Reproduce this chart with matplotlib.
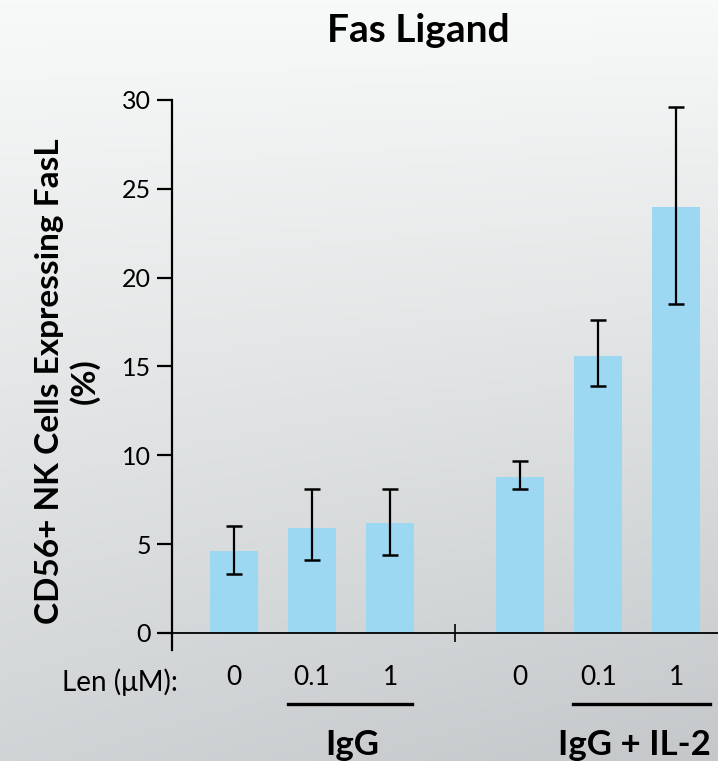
import matplotlib.pyplot as plt
import numpy as np

plt.rcParams['font.family'] = ['Lato', 'DejaVu Sans']

# bar data (% CD56+ NK cells expressing FasL)
doses = ['0', '0.1', '1', '0', '0.1', '1']
values = [4.6, 5.9, 6.2, 8.8, 15.6, 24.0]
err_hi = [6.0, 8.1, 8.1, 9.7, 17.6, 29.6]
err_lo = [3.3, 4.1, 4.4, 8.1, 13.9, 18.5]
groups = ['IgG', 'IgG + IL-2']
x_pos = [0, 1, 2, 3.67, 4.67, 5.67]
y_ticks = [0, 5, 10, 15, 20, 25, 30]

fig = plt.figure(figsize=(7.18, 7.61), dpi=100)

# gray gradient background
bg = fig.add_axes([0, 0, 1, 1], zorder=-10)
yy, xx = np.mgrid[0:1:200j, 0:1:200j]
shade = np.clip(0.75 * yy + 0.25 * xx * yy, 0, 1)
top = np.array([248, 249, 249]) / 255
bottom = np.array([196, 200, 202]) / 255
img = top + shade[..., None] * (bottom - top)
bg.imshow(img, extent=[0, 1, 0, 1], aspect='auto', origin='upper')
bg.axis('off')

ax = fig.add_axes([0.2396, 0.1682, 0.7604, 0.7004])
ax.patch.set_alpha(0)

lower = [v - l for v, l in zip(values, err_lo)]
upper = [h - v for v, h in zip(values, err_hi)]
ax.bar(x_pos, values, width=0.62, color='#9dd8f2', zorder=1)
ax.errorbar(x_pos, values, yerr=[lower, upper], fmt='none', ecolor='black',
            elinewidth=1.6, capsize=6, capthick=1.8, zorder=2)

ax.set_xlim(-0.795, 6.205)
ax.set_ylim(0, 30)
ax.set_yticks(y_ticks)
ax.set_yticklabels([str(t) for t in y_ticks], fontsize=18)
ax.tick_params(axis='y', length=11, width=1.6, pad=4)
ax.set_xticks([2.835])
ax.set_xticklabels([''])
ax.tick_params(axis='x', direction='inout', length=13, width=1.2)

for s in ['top', 'right']:
    ax.spines[s].set_visible(False)
ax.spines['left'].set_linewidth(1.6)
ax.spines['bottom'].set_linewidth(1.3)
ax.plot([-0.795, -0.795], [0, -0.95], color='black', lw=1.6, clip_on=False)

# dose labels under bars
tr = ax.get_xaxis_transform()
fig.text(0.086, 1 - 682 / 761, 'Len (\u03bcM):', fontsize=20, ha='left', va='center')
for x, d in zip(x_pos, doses):
    ax.text(x, -0.083, d, transform=tr, fontsize=19, ha='center', va='center')

# group underlines and names
spans = [(0.69, 2.28), (4.35, 6.1)]
name_x = [1.51, 5.13]
for (a, b), nx, name in zip(spans, name_x, groups):
    ax.plot([a, b], [-0.133, -0.133], transform=tr, color='black',
            lw=2.4, clip_on=False)
    ax.text(nx, -0.21, name, transform=tr, fontsize=25, fontweight='bold',
            ha='center', va='center')

ax.set_ylabel('CD56+ NK Cells Expressing FasL\n(%)', fontsize=24, fontweight='bold',
              labelpad=16, linespacing=1.2, y=0.472)
fig.text(0.582, 1 - 30 / 761, 'Fas Ligand', fontsize=28, fontweight='bold',
         ha='center', va='center')

fig.savefig('out.png', dpi=100)
